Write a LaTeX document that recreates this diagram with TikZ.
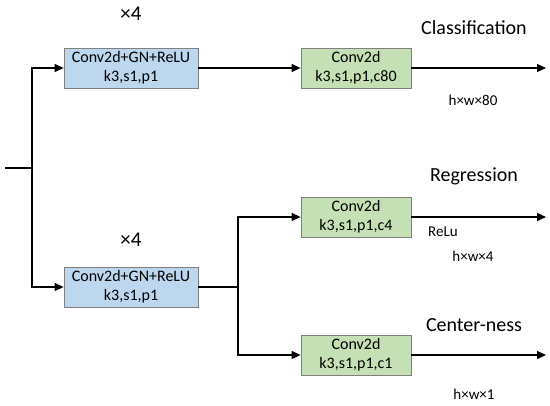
\documentclass[tikz,border=0pt]{standalone}
\usepackage{fontspec}
\setmainfont{Carlito}
\usetikzlibrary{arrows.meta}
\definecolor{towerblue}{RGB}{189,215,238}
\definecolor{headgreen}{RGB}{197,224,180}
\begin{document}
\begin{tikzpicture}[
        x=1pt, y=-1pt,
        line width=1.2pt,
        % Blöcke im Turm und in den Köpfen
        block/.style={draw=black!50, line width=0.8pt, inner sep=0pt, align=center,
            minimum height=40pt, font=\fontsize{16}{19}\selectfont},
        towerbox/.style={block, fill=towerblue, minimum width=134pt},
        headbox/.style={block, fill=headgreen, minimum width=110pt},
        headname/.style={font=\fontsize{20}{24}\selectfont},
        shapenote/.style={font=\fontsize{15}{18}\selectfont},
        flow/.style={-{Triangle[length=9pt,width=8pt]}}
    ]
    \useasboundingbox (0,0) rectangle (550,406);

    \node[towerbox] (tower1) at (131,68) {Conv2d+GN+ReLU\\k3,s1,p1};
    \node[towerbox] (tower2) at (131,287) {Conv2d+GN+ReLU\\k3,s1,p1};
    \node[font=\fontsize{21}{24}\selectfont] (rep1) at (131,14) {×4};
    \node[font=\fontsize{21}{24}\selectfont] (rep2) at (131,240) {×4};

    \node[headbox] (cls) at (356,68) {Conv2d\\k3,s1,p1,c80};
    \node[headbox] (reg) at (356,217) {Conv2d\\k3,s1,p1,c4};
    \node[headbox] (ctr) at (356,355) {Conv2d\\k3,s1,p1,c1};

    \node[headname] (clsname) at (474,28) {Classification};
    \node[headname] (regname) at (474,176) {Regression};
    \node[headname] (ctrname) at (474,325) {Center-ness};
    \node[shapenote] (clsshape) at (473,100) {h×w×80};
    \node[shapenote] (relu) at (443,232) {ReLu};
    \node[shapenote] (regshape) at (473,256) {h×w×4};
    \node[shapenote] (ctrshape) at (474,394) {h×w×1};

    \coordinate (input) at (5,168);
    \coordinate (split) at (32,168);
    \coordinate (fork) at (238,287);
    \coordinate (clsout) at (546,68);
    \coordinate (regout) at (546,217);
    \coordinate (ctrout) at (546,355);

    \draw (input) -- (split);
    \draw[flow] (split) |- (tower1.west);
    \draw[flow] (split) |- (tower2.west);
    \draw[flow] (tower1) -- (cls);
    \draw (tower2.east) -- (fork);
    \draw[flow] (fork) |- (reg.west);
    \draw[flow] (fork) |- (ctr.west);
    \draw[flow] (cls) -- (clsout);
    \draw[flow] (reg) -- (regout);
    \draw[flow] (ctr) -- (ctrout);
\end{tikzpicture}
\end{document}
